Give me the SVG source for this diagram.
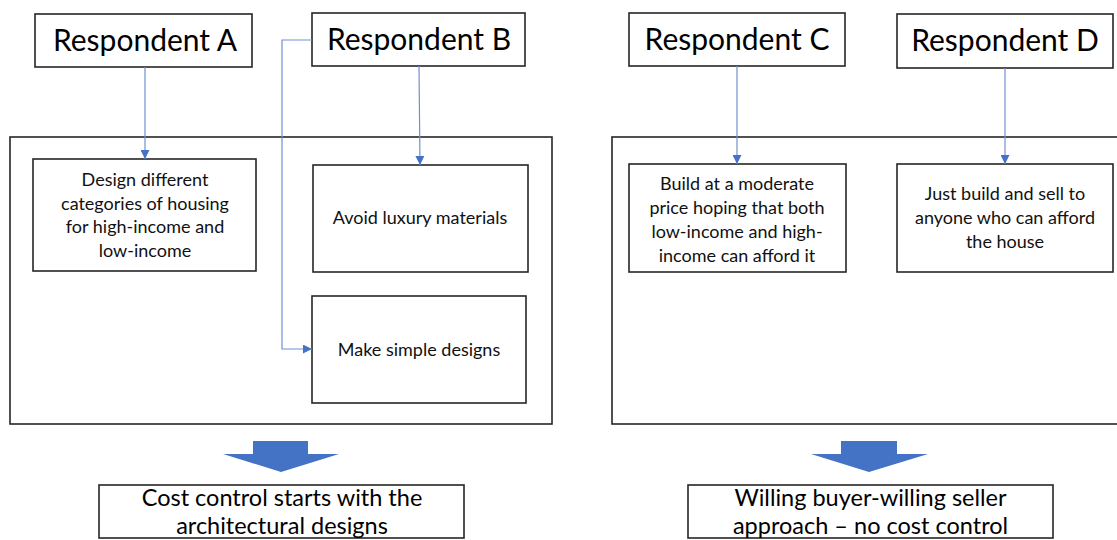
<svg xmlns="http://www.w3.org/2000/svg" width="1117" height="540" viewBox="0 0 1117 540">
  <style>
    .box { fill: #ffffff; stroke: #262626; stroke-width: 1.6; }
    .frame { fill: none; stroke: #262626; stroke-width: 1.6; }
    .title { font-family: Lato, "Open Sans", sans-serif; font-size: 30px; fill: #000; text-anchor: middle; }
    .body { font-family: Lato, "Open Sans", sans-serif; font-size: 18px; fill: #111; text-anchor: middle; }
    .result { font-family: Lato, "Open Sans", sans-serif; font-size: 23.5px; fill: #000; text-anchor: middle; }
    .link { fill: none; stroke: #6f8fd3; stroke-width: 1.2; marker-end: url(#tip); }
    .block { fill: #4472C4; }
  </style>
  <defs>
    <marker id="tip" viewBox="0 0 10 10" refX="10" refY="5" markerWidth="9" markerHeight="9" markerUnits="userSpaceOnUse" orient="auto">
      <path d="M0,0 L10,5 L0,10 Z" fill="#4472C4"/>
    </marker>
  </defs>

  <!-- group frames -->
  <rect class="frame" x="10" y="137" width="542" height="287"/>
  <rect class="frame" x="612" y="137" width="510" height="287"/>

  <!-- respondent headers -->
  <g id="respondent-a">
    <rect class="box" x="35" y="14" width="217" height="53"/>
    <text class="title" x="145" y="51">Respondent A</text>
  </g>
  <g id="respondent-b">
    <rect class="box" x="312" y="13" width="213" height="53"/>
    <text class="title" x="419" y="50">Respondent B</text>
  </g>
  <g id="respondent-c">
    <rect class="box" x="629" y="13" width="216" height="53"/>
    <text class="title" x="737" y="50">Respondent C</text>
  </g>
  <g id="respondent-d">
    <rect class="box" x="897" y="14" width="216" height="54"/>
    <text class="title" x="1005" y="51">Respondent D</text>
  </g>

  <!-- strategies -->
  <g id="design-categories">
    <rect class="box" x="33" y="159" width="223" height="112"/>
    <text class="body" x="145" y="186">Design different</text>
    <text class="body" x="145" y="210">categories of housing</text>
    <text class="body" x="145" y="233">for high-income and</text>
    <text class="body" x="145" y="257">low-income</text>
  </g>
  <g id="avoid-luxury">
    <rect class="box" x="313" y="165" width="215" height="107"/>
    <text class="body" x="420" y="224">Avoid luxury materials</text>
  </g>
  <g id="simple-designs">
    <rect class="box" x="312" y="296" width="214" height="107"/>
    <text class="body" x="419" y="356">Make simple designs</text>
  </g>
  <g id="moderate-price">
    <rect class="box" x="629" y="164" width="217" height="108"/>
    <text class="body" x="737" y="190">Build at a moderate</text>
    <text class="body" x="737" y="214">price hoping that both</text>
    <text class="body" x="737" y="238">low-income and high-</text>
    <text class="body" x="737" y="262">income can afford it</text>
  </g>
  <g id="just-build">
    <rect class="box" x="897" y="164" width="216" height="108"/>
    <text class="body" x="1005" y="200">Just build and sell to</text>
    <text class="body" x="1005" y="224">anyone who can afford</text>
    <text class="body" x="1005" y="248">the house</text>
  </g>

  <!-- conclusions -->
  <g id="cost-control">
    <rect class="box" x="99" y="485" width="365" height="53"/>
    <text class="result" x="282" y="506">Cost control starts with the</text>
    <text class="result" x="282" y="534">architectural designs</text>
  </g>
  <g id="no-cost-control">
    <rect class="box" x="688" y="485" width="365" height="53"/>
    <text class="result" x="870.5" y="506">Willing buyer-willing seller</text>
    <text class="result" x="870.5" y="534">approach – no cost control</text>
  </g>

  <!-- connectors -->
  <g id="connectors">
    <path class="link" d="M145,67 L145,159"/>
    <path class="link" d="M419,66 L420,165"/>
    <path class="link" d="M312,40 L282,40 L282,349 L312,349"/>
    <path class="link" d="M737,66 L737,164"/>
    <path class="link" d="M1005,68 L1005,164"/>
    <path class="block" d="M253,441 L308,441 L308,454 L339,454 L281,472 L223,454 L253,454 Z"/>
    <path class="block" d="M841,441 L897,441 L897,454 L928,454 L869,472 L811,454 L841,454 Z"/>
  </g>
</svg>
